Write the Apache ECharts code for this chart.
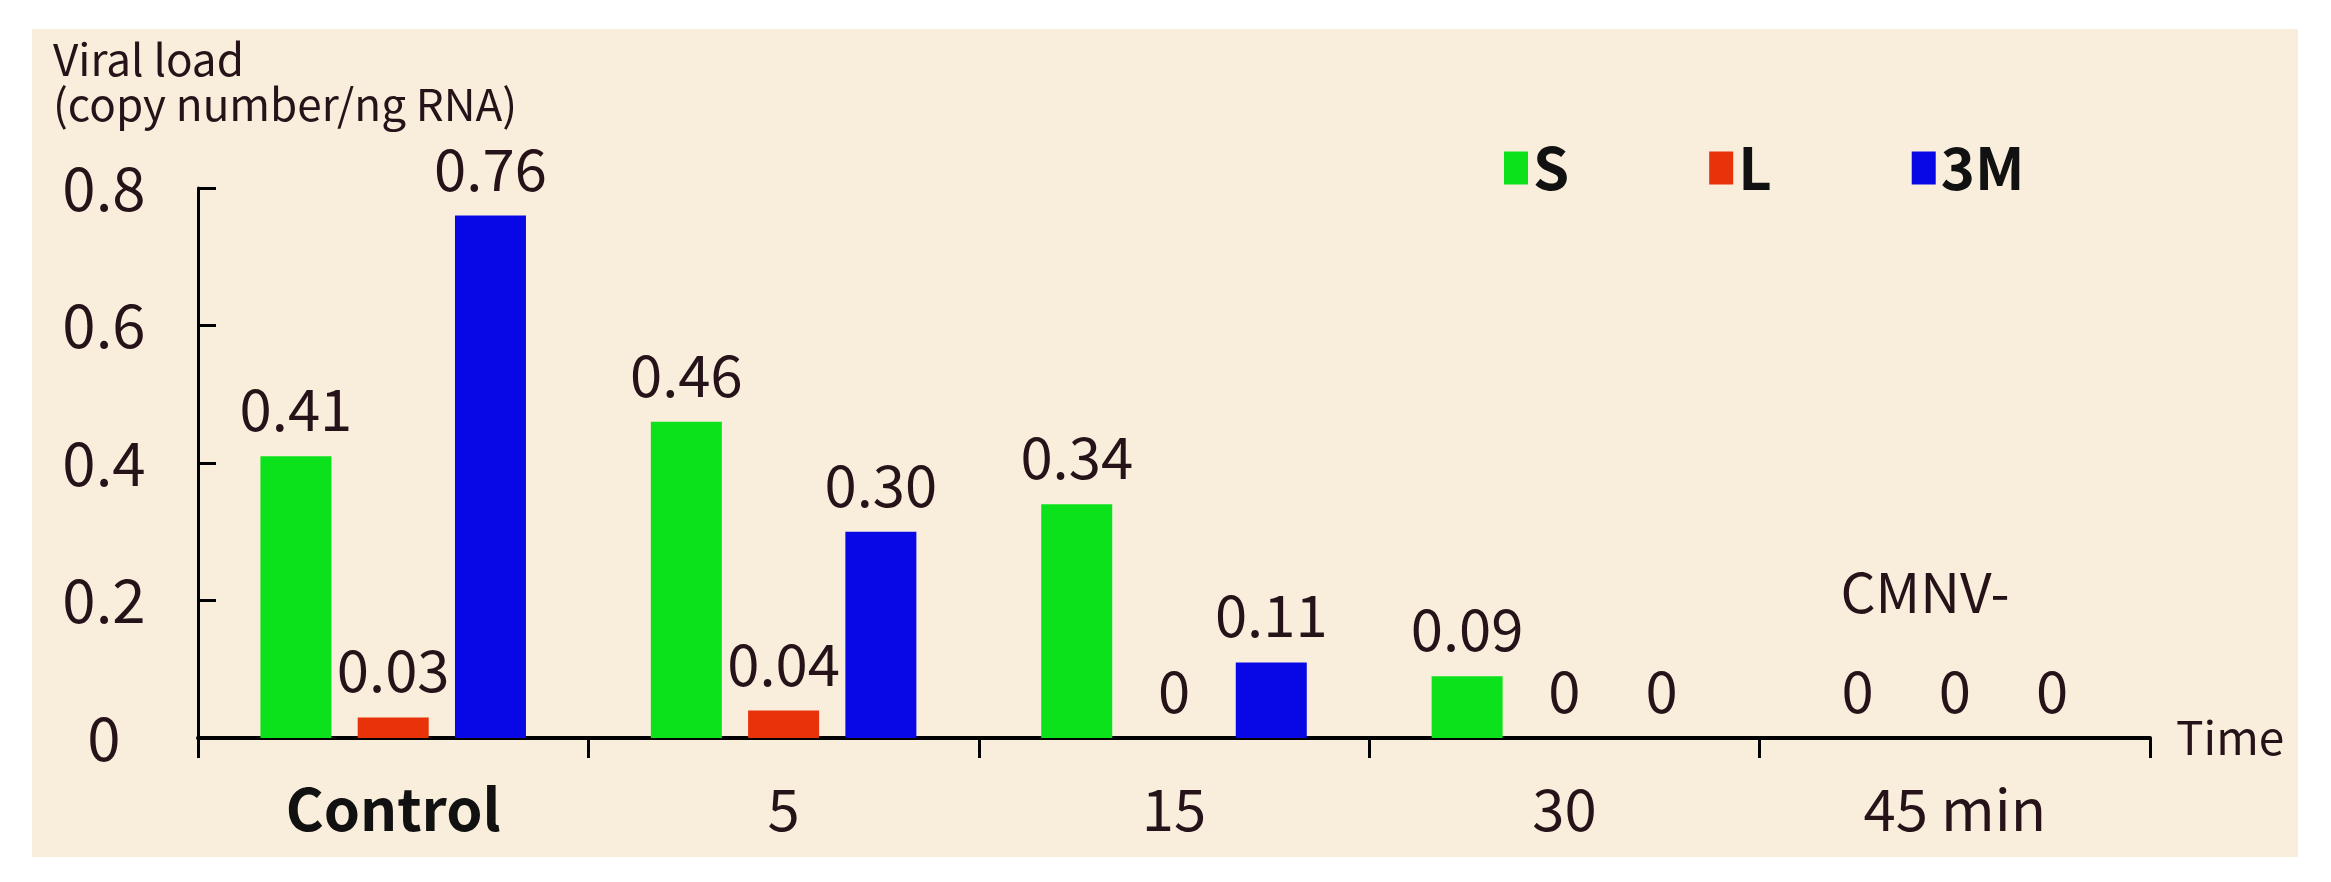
<!DOCTYPE html>
<html>
<head>
<meta charset="utf-8">
<style>
    html, body { margin: 0; padding: 0; background: #fff; }
    #viral-bar { width: 2331px; height: 882px; }
</style>
<script src="https://cdn.jsdelivr.net/npm/echarts@6/dist/echarts.min.js"></script>
</head>
<body>
<div id="viral-bar"></div>
<script>
/*----------------------------- data -----------------------------*/
var category = ['Control', '5', '15', '30', '45 min'];
var sData = [0.41, 0.46, 0.34, 0.09, 0];
var lData = [0.03, 0.04, 0, 0, 0];
var mData = [0.76, 0.30, 0.11, 0, 0];
var seriesName = ['S', 'L', '3M'];
var yTicks = [0, 0.2, 0.4, 0.6, 0.8];

var FONT = 'Noto Sans CJK SC';
var TXT = '#26131a';

function barSeries(name, data, color) {
    return {
        name: name,
        type: 'bar',
        barWidth: 71,
        barGap: '37%',
        itemStyle: { color: color },
        label: {
            show: true,
            position: 'top',
            distance: 18,
            fontFamily: FONT,
            fontSize: 58,
            color: TXT,
            formatter: function (p) {
                return p.value === 0 ? '0' : p.value.toFixed(2);
            }
        },
        data: data
    };
}

function viralOption() {
    var option = {
        animation: false,
        backgroundColor: '#fff',
        textStyle: { fontFamily: FONT },
        graphic: [{
            type: 'rect',
            z: -10,
            shape: { x: 32, y: 29, width: 2266, height: 828 },
            style: { fill: '#f9eedb' }
        }, {
            type: 'text',
            left: 53,
            top: 37,
            style: {
                text: 'Viral load\n(copy number/ng RNA)',
                font: '44px "' + FONT + '"',
                lineHeight: 45,
                fill: TXT
            }
        }, {
            type: 'text',
            x: 1925,
            y: 592,
            style: {
                text: 'CMNV-',
                font: '55px "' + FONT + '"',
                fill: TXT,
                textAlign: 'center',
                textVerticalAlign: 'middle'
            }
        }],
        legend: {
            data: seriesName,
            left: 1504,
            top: 138,
            padding: 0,
            icon: 'rect',
            itemWidth: 24,
            itemHeight: 33,
            itemGap: 140,
            textStyle: {
                fontFamily: FONT,
                fontSize: 58,
                fontWeight: 'bold',
                color: '#111',
                lineHeight: 60
            }
        },
        grid: {
            left: 198,
            right: 181,
            top: 188,
            bottom: 144
        },
        xAxis: [{
            type: 'category',
            data: category,
            name: 'Time',
            nameLocation: 'end',
            nameGap: 26,
            nameTextStyle: {
                fontFamily: FONT,
                fontSize: 46,
                color: TXT,
                verticalAlign: 'middle',
                padding: [18, 0, 0, 0]
            },
            axisLine: { show: true, lineStyle: { color: '#000', width: 4 } },
            axisTick: { show: true, length: 20, lineStyle: { color: '#000', width: 3 } },
            axisLabel: {
                interval: 0,
                margin: 42,
                fontFamily: FONT,
                fontSize: 58,
                color: TXT,
                formatter: function (v) {
                    return v === 'Control' ? '{b|' + v + '}' : v;
                },
                rich: {
                    b: { fontFamily: FONT, fontSize: 58, fontWeight: 'bold', color: '#111' }
                }
            }
        }],
        yAxis: [{
            type: 'value',
            min: yTicks[0],
            max: yTicks[yTicks.length - 1],
            interval: 0.2,
            axisLine: { show: true, lineStyle: { color: '#000', width: 3 } },
            axisTick: { show: true, inside: true, length: 18, lineStyle: { color: '#000', width: 3 } },
            splitLine: { show: false },
            axisLabel: {
                margin: 94,
                align: 'center',
                fontFamily: FONT,
                fontSize: 60,
                color: TXT
            }
        }],
        series: [
            barSeries(seriesName[0], sData, '#0be21b'),
            barSeries(seriesName[1], lData, '#e8320a'),
            barSeries(seriesName[2], mData, '#0808e6')
        ]
    };
    return option;
}

var viralChart = echarts.init(document.getElementById('viral-bar'));
viralChart.setOption(viralOption());
</script>
</body>
</html>
